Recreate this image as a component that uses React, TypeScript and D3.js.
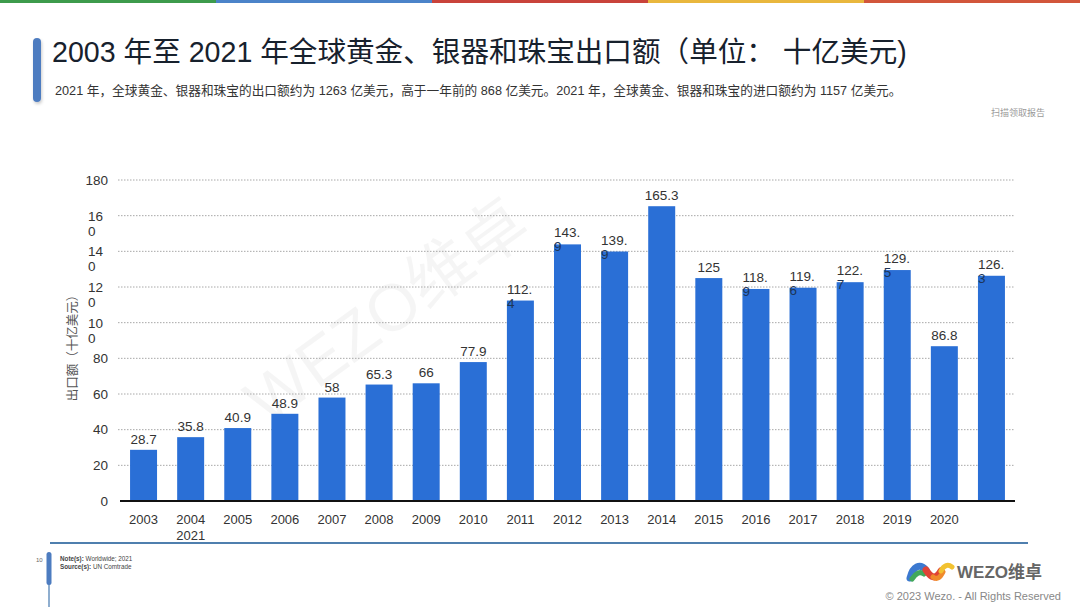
import React from 'react';
import * as d3 from 'd3';

const years = ['2003','2004','2005','2006','2007','2008','2009','2010','2011','2012','2013','2014','2015','2016','2017','2018','2019','2020','2021'];
const exportsBn = [28.7,35.8,40.9,48.9,58,65.3,66,77.9,112.4,143.9,139.9,165.3,125,118.9,119.6,122.7,129.5,86.8,126.3];
const wrappedValueYears = ['2011','2012','2013','2016','2017','2018','2019','2021'];
const yTicks = [0,20,40,60,80,100,120,140,160,180];
const wrappedYTicks = [100,120,140,160];
const topStripColors = ['#3d9b4c','#4b83c9','#c9433b','#e9b73d','#d2563b'];

const title = '2003 年至 2021 年全球黄金、银器和珠宝出口额（单位： 十亿美元)';
const subtitle = '2021 年，全球黄金、银器和珠宝的出口额约为 1263 亿美元，高于一年前的 868 亿美元。2021 年，全球黄金、银器和珠宝的进口额约为 1157 亿美元。';
const yAxisTitle = '出口额（十亿美元）';

const W = 1080, H = 607;
const FONT = "'Liberation Sans', Arial, 'Noto Sans CJK SC', sans-serif";

export default function App() {
  const x = d3.scaleBand<string>().domain(years).range([120, 1015]).paddingInner(0.427).paddingOuter(0.2135);
  const y = d3.scaleLinear().domain([0, 180]).range([501, 180]);
  const bw = x.bandwidth();
  const stripW = W / topStripColors.length;

  return (
    <svg width={W} height={H} style={{ position: 'absolute', left: 0, top: 0, background: '#fff' }} fontFamily={FONT}>
      <rect x={0} y={0} width={W} height={H} fill="#fff" />
      {topStripColors.map((c, i) => (
        <rect key={c + i} x={i * stripW} y={0} width={stripW + 0.5} height={3} fill={c} />
      ))}
      <defs>
        <filter id="sh" x="-50%" y="-20%" width="200%" height="140%">
          <feDropShadow dx="1" dy="2" stdDeviation="1.5" floodColor="#000" floodOpacity="0.2" />
        </filter>
      </defs>
      <rect x={33} y={38} width={8} height={64} rx={4} fill="#4d7cc0" filter="url(#sh)" />
      <text x={52} y={62} fontSize={28.6} fill="#17212d">{title}</text>
      <text x={55} y={95} fontSize={12.7} fill="#333">{subtitle}</text>
      <text x={1045} y={116} fontSize={9} fill="#999" textAnchor="end">扫描领取报告</text>

      {/* watermark */}
      <text x={400} y={330} fontSize={66} fill="#000" opacity={0.035} textAnchor="middle"
        transform="rotate(-36 400 330)">WEZO维卓</text>

      {/* gridlines */}
      {yTicks.filter(t => t > 0).map(t => (
        <line key={'g' + t} x1={118} x2={1015} y1={y(t)} y2={y(t)} stroke="#a8a8a8" strokeWidth={1} strokeDasharray="1.5,1.5" />
      ))}
      {/* y tick labels */}
      {yTicks.map(t => {
        const s = String(t);
        if (wrappedYTicks.includes(t)) {
          return (
            <text key={'yt' + t} x={88} y={y(t)} fontSize={13.5} fill="#333" dominantBaseline="central">
              <tspan x={88} dy={0}>{s.slice(0, 2)}</tspan>
              <tspan x={88} dy={15}>{s.slice(2)}</tspan>
            </text>
          );
        }
        return (
          <text key={'yt' + t} x={108} y={y(t)} fontSize={13.5} fill="#333" textAnchor="end" dominantBaseline="central">{s}</text>
        );
      })}
      <text x={0} y={0} fontSize={12.5} fill="#555" textAnchor="middle" dominantBaseline="central"
        transform={`translate(73,345) rotate(-90)`}>{yAxisTitle}</text>

      {/* bars */}
      {years.map((yr, i) => (
        <rect key={'b' + yr} x={x(yr)} y={y(exportsBn[i])} width={bw} height={y(0) - y(exportsBn[i])} fill="#2a6fd6" />
      ))}
      {/* value labels */}
      {years.map((yr, i) => {
        const v = exportsBn[i];
        const s = String(v);
        const top = y(v);
        if (wrappedValueYears.includes(yr)) {
          const dot = s.indexOf('.');
          return (
            <text key={'v' + yr} fontSize={13.5} fill="#333">
              <tspan x={x(yr)} y={top - 7}>{s.slice(0, dot + 1)}</tspan>
              <tspan x={x(yr)} y={top + 7} fill="#1d3557">{s.slice(dot + 1)}</tspan>
            </text>
          );
        }
        return (
          <text key={'v' + yr} x={(x(yr) as number) + bw / 2} y={top - 6} fontSize={13.5} fill="#333" textAnchor="middle">{s}</text>
        );
      })}
      {/* baseline */}
      <line x1={120} x2={1015} y1={y(0)} y2={y(0)} stroke="#111" strokeWidth={2} />
      {/* x labels: the last category wraps under the second */}
      {years.slice(0, -1).map(yr => (
        <text key={'x' + yr} x={(x(yr) as number) + bw / 2} y={524} fontSize={13} fill="#333" textAnchor="middle">{yr}</text>
      ))}
      <text x={(x(years[1]) as number) + bw / 2} y={540} fontSize={13} fill="#333" textAnchor="middle">{years[years.length - 1]}</text>

      {/* footer */}
      <line x1={50} x2={1028} y1={543} y2={543} stroke="#4f7fae" strokeWidth={2} />
      <line x1={49} x2={49} y1={560} y2={607} stroke="#6a93bf" strokeWidth={1.5} />
      <rect x={46.5} y={552} width={5} height={33} rx={2.5} fill="#4d7cc0" />
      <text x={36} y={562} fontSize={6} fill="#666">10</text>
      <text x={60} y={561} fontSize={6.3} fill="#444">
        <tspan fontWeight="bold">Note(s):</tspan> Worldwide; 2021
      </text>
      <text x={60} y={569} fontSize={6.3} fill="#444">
        <tspan fontWeight="bold">Source(s):</tspan> UN Comtrade
      </text>

      {/* logo */}
      <g strokeLinecap="round" fill="none">
        <path d="M910,578 C913,566 920,563 926,570" stroke="#3c79d0" strokeWidth={7} />
        <path d="M912,579 C916,573 920,571 924,574" stroke="#41a85a" strokeWidth={5} />
        <path d="M926,570 C931,578 936,580 941,571" stroke="#e04335" strokeWidth={7} />
        <path d="M933,577 C937,580 940,578 943,572" stroke="#f08a2c" strokeWidth={5} />
        <path d="M941,571 C944,565 948,564 952,567" stroke="#f2c230" strokeWidth={5} />
      </g>
      <text x={957} y={578} fontSize={17} fontWeight="bold" fill="#666">WEZO维卓</text>
      <text x={1061} y={600} fontSize={11} fill="#888" textAnchor="end">© 2023 Wezo. - All Rights Reserved</text>
    </svg>
  );
}
